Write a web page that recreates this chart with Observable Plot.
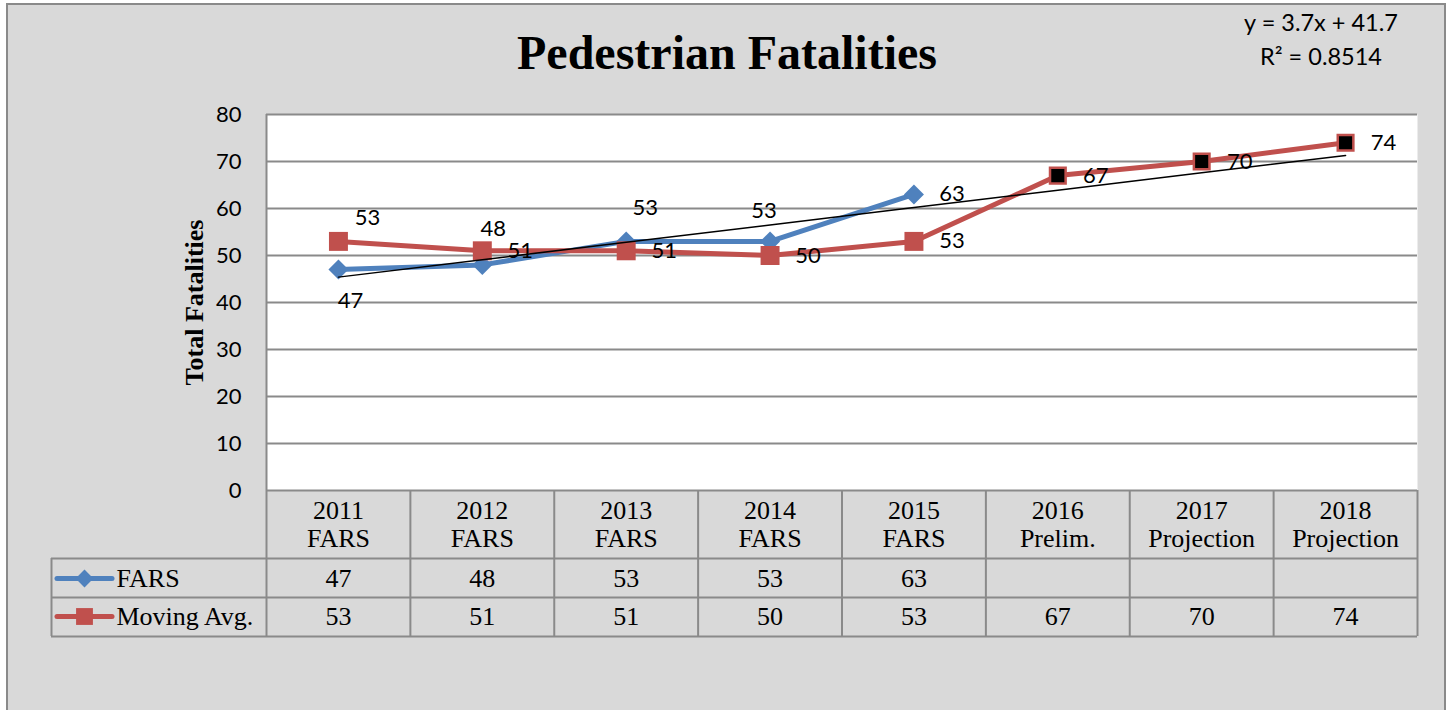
<!DOCTYPE html>
<html>
<head>
<meta charset="utf-8">
<script src="https://cdn.jsdelivr.net/npm/d3@7"></script>
<script src="https://cdn.jsdelivr.net/npm/@observablehq/plot@0.6"></script>
<style>
  html, body { margin: 0; padding: 0; background: #ffffff; width: 1450px; height: 710px; overflow: hidden; }
  #box { position: absolute; left: 6px; top: 3px; width: 1436px; height: 730px; background: #d9d9d9; border: 2px solid #8a8a8a; }
  #title { position: absolute; left: 0; top: 29px; width: 1454px; text-align: center; font: bold 48px "Liberation Serif", serif; line-height: 48px; color: #000; }
  #eq { position: absolute; left: 1171px; top: 5px; width: 300px; text-align: center; font: 23.5px Lato, sans-serif; line-height: 34px; color: #000; }
  #chart { position: absolute; left: 0; top: 0; }
</style>
</head>
<body>
<div id="box"></div>
<div id="title"></div>
<div id="eq"></div>
<div id="chart"></div>
<script>
// ---------- data ----------
const titleText = "Pedestrian Fatalities";
const yTitle = "Total Fatalities";
const categories = ["2011\nFARS", "2012\nFARS", "2013\nFARS", "2014\nFARS", "2015\nFARS", "2016\nPrelim.", "2017\nProjection", "2018\nProjection"];
const seriesNames = ["FARS", "Moving Avg."];
const farsValues = [47, 48, 53, 53, 63];
const movingAvgValues = [53, 51, 51, 50, 53, 67, 70, 74];
const yTicks = [0, 10, 20, 30, 40, 50, 60, 70, 80];
const trendSlope = 3.7;
const trendIntercept = 41.7;
const trendR2 = "0.8514";

// ---------- label placement (style) ----------
const farsLabelPlace = ["below", "above", "aboveRight", "aboveLeft", "right"];
const maLabelPlace = ["upRight", "right", "right", "right", "right", "right", "right", "right"];
const placeOffsets = {below: [12, 31], above: [11, -36], aboveRight: [19, -33], aboveLeft: [-6, -30], upRight: [29, -23], right: [38, 0]};

// ---------- colours & layout ----------
const blue = "#4f81bd", red = "#c0504d", gridGray = "#8a8a8a";
const W = 1450, H = 710;
const fL = 266, fR = 1417, fT = 114, fB = 490;
const tableRowsPx = [490, 558, 597, 636];   // header top, header bottom, FARS bottom, MA bottom
const legendLeftPx = 51;
const yMax = 80;
const unitY = (fB - fT) / yMax;
const unitX = (fR - fL) / categories.length;
const toY = px => (fB - px) / unitY;
const toX = px => 0.5 + (px - fL) / unitX;

document.getElementById("title").textContent = titleText;
document.getElementById("eq").innerHTML = `y = ${trendSlope}x + ${trendIntercept}<br>R² = ${trendR2}`;

const isEstimate = c => !c.includes("FARS");
const farsData = farsValues.map((v, i) => ({x: i + 1, v, place: farsLabelPlace[i]}));
const maData = movingAvgValues.map((v, i) => ({x: i + 1, v, est: isEstimate(categories[i]), place: maLabelPlace[i]}));
const trendData = categories.map((c, i) => ({x: i + 1, v: trendSlope * (i + 1) + trendIntercept}));
const edges = d3.range(categories.length + 1).map(i => i + 0.5);

const farsRowY = toY(578), maRowY = toY(616);

function labelMarks(data) {
  return Object.keys(placeOffsets).map(key => {
    const subset = data.filter(d => d.place === key);
    if (!subset.length) return null;
    const [dx, dy] = placeOffsets[key];
    return Plot.text(subset, {x: "x", y: "v", text: d => String(d.v), dx, dy,
      fontFamily: "Lato", fontSize: 22, fill: "black", textAnchor: "middle", lineAnchor: "middle"});
  }).filter(Boolean);
}

const chart = Plot.plot({
  width: W,
  height: H,
  marginLeft: fL,
  marginRight: W - fR,
  marginTop: fT,
  marginBottom: H - fB,
  style: {background: "transparent", overflow: "visible", fontFamily: "Lato"},
  x: {domain: [0.5, categories.length + 0.5], axis: null},
  y: {domain: [0, yMax], axis: null},
  marks: [
    Plot.frame({fill: "white", stroke: "none"}),
    // gridlines
    Plot.ruleY(yTicks.filter(v => v > 0), {x1: 0.5, x2: categories.length + 0.5, stroke: gridGray, strokeWidth: 2}),
    // left axis line
    Plot.ruleX([0.5], {y1: yMax, y2: 0, stroke: gridGray, strokeWidth: 2}),
    // data table lines
    Plot.ruleX(edges, {y1: 0, y2: toY(tableRowsPx[3]), stroke: gridGray, strokeWidth: 2}),
    Plot.ruleX([toX(legendLeftPx)], {y1: toY(tableRowsPx[1]), y2: toY(tableRowsPx[3]), stroke: gridGray, strokeWidth: 2}),
    Plot.ruleY([0], {x1: 0.5, x2: categories.length + 0.5, stroke: gridGray, strokeWidth: 2}),
    Plot.ruleY(tableRowsPx.slice(1).map(toY), {x1: toX(legendLeftPx), x2: categories.length + 0.5, stroke: gridGray, strokeWidth: 2}),
    // y axis
    Plot.axisY({ticks: yTicks, tickSize: 0, tickPadding: 25, fontFamily: "Lato", fontSize: 22, label: null, fill: "black"}),
    Plot.text([yTitle], {frameAnchor: "left", rotate: -90, dx: -(fL - 194), textAnchor: "middle", fontFamily: "Liberation Serif", fontWeight: "bold", fontSize: 26, fill: "black", lineAnchor: "middle"}),
    // x axis (table header)
    Plot.axisX({ticks: categories.map((c, i) => i + 1), tickFormat: i => categories[i - 1], tickSize: 0, tickPadding: 8,
      fontFamily: "Liberation Serif", fontSize: 26, lineHeight: 1.1, label: null, fill: "black"}),
    // table values
    Plot.text(farsData, {x: "x", y: farsRowY, text: d => String(d.v), fontFamily: "Liberation Serif", fontSize: 26, fill: "black", lineAnchor: "middle"}),
    Plot.text(maData, {x: "x", y: maRowY, text: d => String(d.v), fontFamily: "Liberation Serif", fontSize: 26, fill: "black", lineAnchor: "middle"}),
    // legend keys in table
    Plot.ruleY([farsRowY], {x1: toX(57), x2: toX(112), stroke: blue, strokeWidth: 5, strokeLinecap: "round"}),
    Plot.dot([farsRowY], {x: toX(84), y: d => d, symbol: "diamond2", r: 8, fill: blue}),
    Plot.ruleY([maRowY], {x1: toX(57), x2: toX(112), stroke: red, strokeWidth: 5, strokeLinecap: "round"}),
    Plot.dot([maRowY], {x: toX(84), y: d => d, symbol: "square", r: 9.5, fill: red}),
    Plot.text(seriesNames, {x: toX(116), y: [farsRowY, maRowY], text: d => d, textAnchor: "start", fontFamily: "Liberation Serif", fontSize: 26, fill: "black", lineAnchor: "middle"}),
    // series
    Plot.line(farsData, {x: "x", y: "v", stroke: blue, strokeWidth: 5, strokeLinejoin: "round"}),
    Plot.dot(farsData, {x: "x", y: "v", symbol: "diamond2", r: 9, fill: blue}),
    Plot.line(maData, {x: "x", y: "v", stroke: red, strokeWidth: 5, strokeLinejoin: "round"}),
    Plot.dot(maData.filter(d => !d.est), {x: "x", y: "v", symbol: "square", r: 10.7, fill: red}),
    Plot.dot(maData.filter(d => d.est), {x: "x", y: "v", symbol: "square", r: 8.8, fill: "black", stroke: red, strokeWidth: 2.5}),
    // trend line
    Plot.line(trendData, {x: "x", y: "v", stroke: "black", strokeWidth: 1.5}),
    // data labels
    ...labelMarks(farsData),
    ...labelMarks(maData)
  ]
});
document.getElementById("chart").appendChild(chart);
</script>
</body>
</html>
